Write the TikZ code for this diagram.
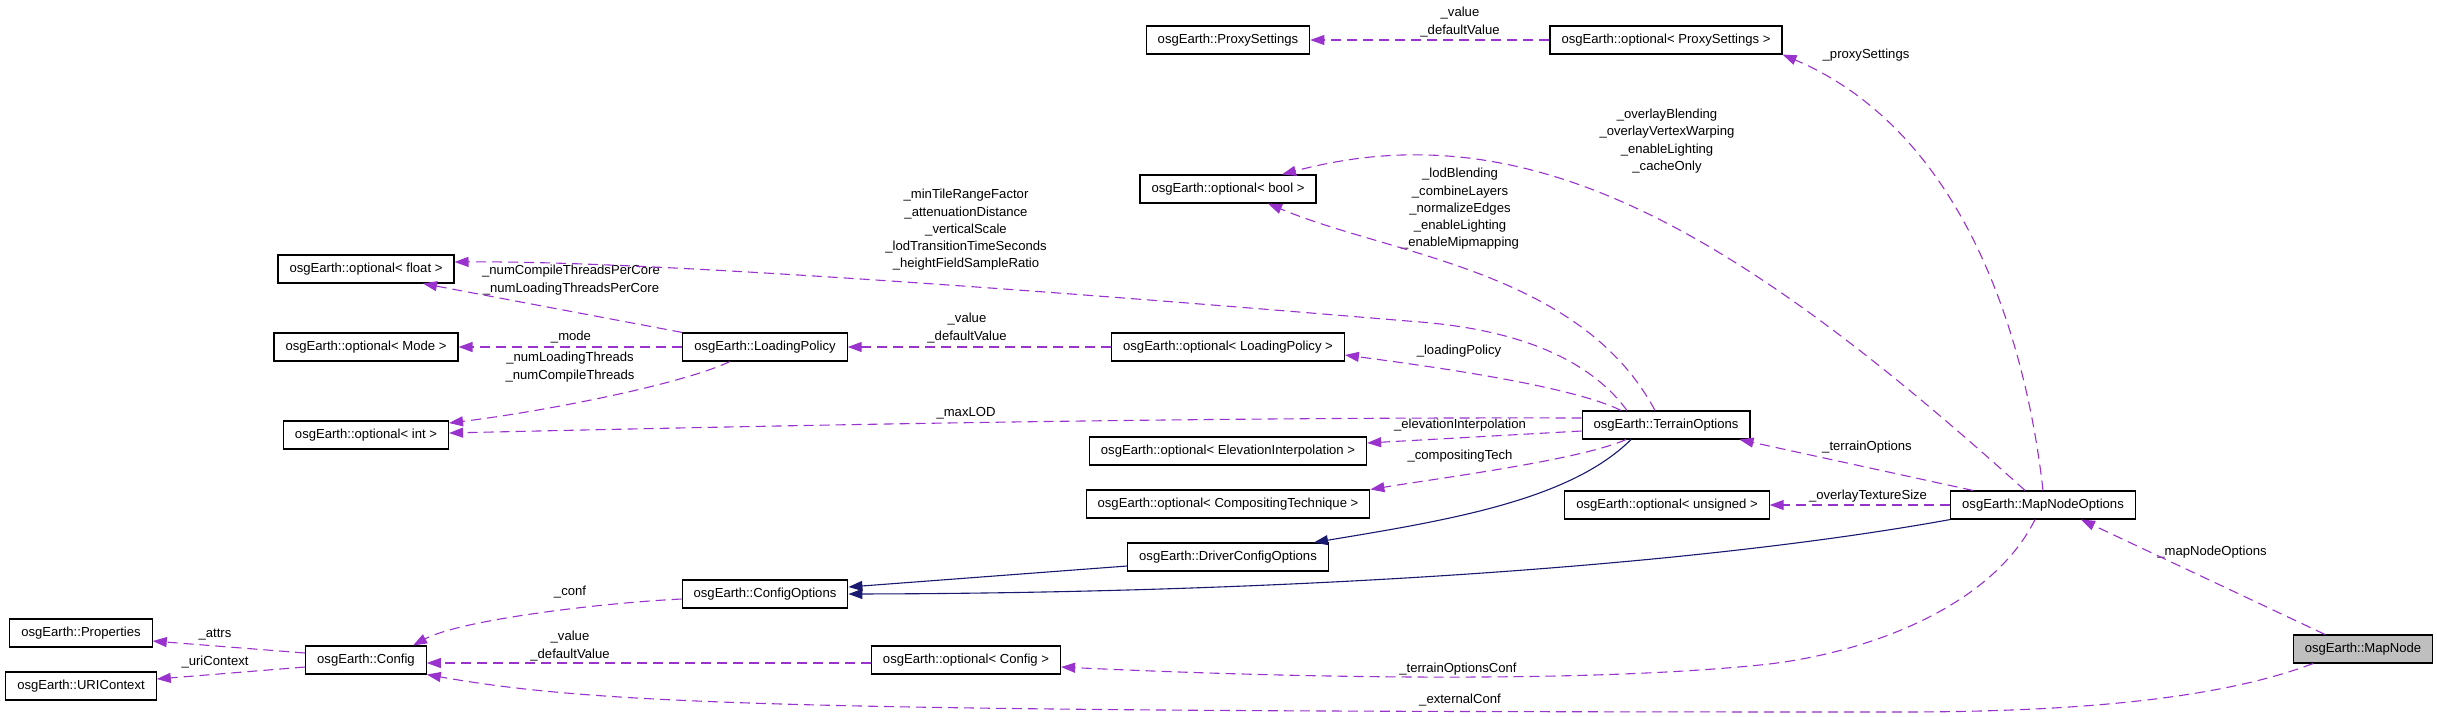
\documentclass[tikz,border=0pt]{standalone}
\usepackage{fontspec}
\setmainfont{Liberation Sans}
\usetikzlibrary{arrows.meta}

\definecolor{roxo}{HTML}{9A32CD}
\definecolor{azul}{HTML}{191970}
\definecolor{cinza}{HTML}{BFBFBF}

\begin{document}
\begin{tikzpicture}[
        x=1pt, y=-1pt,
        >={Triangle[length=14pt,width=10pt]},
        classe/.style={draw, line width=1.1pt, fill=white, inner xsep=11.5pt, inner ysep=0pt, minimum height=28pt},
        atual/.style={classe, fill=cinza},
        membro/.style={->, draw=roxo, dash pattern=on 10pt off 6pt, line width=1.1pt},
        heranca/.style={->, draw=azul, line width=1.1pt},
        rotulo/.style={inner sep=0pt, align=center},
        every node/.style={font=\fontsize{13.1}{17.3}\selectfont}
    ]

        \useasboundingbox (0,0) rectangle (2437,716);

        % ==================================================
        % CLASSES
        % ==================================================

        % Coluna da esquerda
        \node[classe] (props)  at (81,633) {osgEarth::Properties};
        \node[classe] (uri)    at (81,686) {osgEarth::URIContext};
        \node[classe] (optFloat) at (366,269) {osgEarth::optional< float >};
        \node[classe] (optMode)  at (366,347) {osgEarth::optional< Mode >};
        \node[classe] (optInt)   at (366,435) {osgEarth::optional< int >};
        \node[classe] (config)   at (366,660) {osgEarth::Config};

        % Coluna do meio
        \node[classe] (loading)   at (765,347) {osgEarth::LoadingPolicy};
        \node[classe] (confOpts)  at (765,594) {osgEarth::ConfigOptions};
        \node[classe] (optConfig) at (966,660) {osgEarth::optional< Config >};

        \node[classe] (proxy)      at (1228,40)  {osgEarth::ProxySettings};
        \node[classe] (optBool)    at (1228,189) {osgEarth::optional< bool >};
        \node[classe] (optLoading) at (1228,347) {osgEarth::optional< LoadingPolicy >};
        \node[classe] (optElev)    at (1228,451) {osgEarth::optional< ElevationInterpolation >};
        \node[classe] (optComp)    at (1228,504) {osgEarth::optional< CompositingTechnique >};
        \node[classe] (driver)     at (1228,557) {osgEarth::DriverConfigOptions};

        % Coluna da direita
        \node[classe] (optProxy)    at (1666,40)  {osgEarth::optional< ProxySettings >};
        \node[classe] (terrain)     at (1666,425) {osgEarth::TerrainOptions};
        \node[classe] (optUnsigned) at (1667,505) {osgEarth::optional< unsigned >};
        \node[classe] (mapOpts)     at (2043,505) {osgEarth::MapNodeOptions};
        \node[atual]  (mapNode)     at (2363,649) {osgEarth::MapNode};

        % ==================================================
        % ROTULOS
        % ==================================================

        \node[rotulo] (lProxyVal)  at (1460,22)  {\_value\\\_defaultValue};
        \node[rotulo] (lProxySet)  at (1866,55)  {\_proxySettings};
        \node[rotulo] (lOverlay)   at (1667,141) {\_overlayBlending\\\_overlayVertexWarping\\\_enableLighting\\\_cacheOnly};
        \node[rotulo] (lLod)       at (1460,209) {\_lodBlending\\\_combineLayers\\\_normalizeEdges\\\_enableLighting\\\_enableMipmapping};
        \node[rotulo] (lFloat)     at (966,230)  {\_minTileRangeFactor\\\_attenuationDistance\\\_verticalScale\\\_lodTransitionTimeSeconds\\\_heightFieldSampleRatio};
        \node[rotulo] (lPerCore)   at (571,280)  {\_numCompileThreadsPerCore\\\_numLoadingThreadsPerCore};
        \node[rotulo] (lMode)      at (571,337)  {\_mode};
        \node[rotulo] (lThreads)   at (570,367)  {\_numLoadingThreads\\\_numCompileThreads};
        \node[rotulo] (lLoadVal)   at (967,328)  {\_value\\\_defaultValue};
        \node[rotulo] (lLoadPol)   at (1459,351) {\_loadingPolicy};
        \node[rotulo] (lMaxLod)    at (966,413)  {\_maxLOD};
        \node[rotulo] (lElev)      at (1460,425) {\_elevationInterpolation};
        \node[rotulo] (lComp)      at (1460,456) {\_compositingTech};
        \node[rotulo] (lTerrain)   at (1867,447) {\_terrainOptions};
        \node[rotulo] (lTexSize)   at (1868,496) {\_overlayTextureSize};
        \node[rotulo] (lMapOpts)   at (2212,552) {\_mapNodeOptions};
        \node[rotulo] (lConf)      at (570,592)  {\_conf};
        \node[rotulo] (lConfVal)   at (570,646)  {\_value\\\_defaultValue};
        \node[rotulo] (lAttrs)     at (215,635)  {\_attrs};
        \node[rotulo] (lUri)       at (215,662)  {\_uriContext};
        \node[rotulo] (lTerrConf)  at (1458,669) {\_terrainOptionsConf};
        \node[rotulo] (lExternal)  at (1460,700) {\_externalConf};

        % ==================================================
        % SETAS
        % ==================================================

        % Heranca
        \draw[heranca] ([xshift=-35pt]terrain.south) .. controls (1570,500) and (1450,520) .. ([xshift=86pt]driver.north);
        \draw[heranca] ([yshift=-9pt]driver.west) -- ([yshift=7pt]confOpts.east);
        \draw[heranca] (mapOpts.south west) .. controls (1700,565) and (1300,593) .. (confOpts.east);

        % Membros
        \draw[membro] (optProxy) -- (proxy);
        \draw[membro] (mapOpts.north) .. controls (2025,330) and (1960,130) .. (optProxy.south east);
        \draw[membro] ([xshift=-18pt]mapOpts.north) .. controls (1729,223) and (1524,110) .. ([xshift=54pt]optBool.north);
        \draw[membro] ([xshift=-11pt]terrain.north) .. controls (1580,270) and (1390,255) .. ([xshift=40pt]optBool.south);
        \draw[membro] ([xshift=-39pt]terrain.north) .. controls (1590,360) and (1520,330) .. (1420,322)
            .. controls (1320,314) and (700,260) .. ([yshift=7pt]optFloat.east);
        \draw[membro] (loading.north west) -- ([xshift=57pt]optFloat.south);
        \draw[membro] (loading) -- (optMode);
        \draw[membro] ([xshift=-35pt]loading.south) .. controls (680,385) and (540,412) .. ([yshift=12pt]optInt.east);
        \draw[membro] ([yshift=7pt]terrain.west) .. controls (1200,417) and (800,425) .. ([yshift=2pt]optInt.east);
        \draw[membro] (optLoading) -- (loading);
        \draw[membro] ([xshift=-45pt]terrain.north) .. controls (1570,385) and (1420,365) .. ([yshift=-8pt]optLoading.east);
        \draw[membro] ([yshift=-6pt]terrain.west) -- ([yshift=8pt]optElev.east);
        \draw[membro] ([xshift=-40pt]terrain.south) .. controls (1580,460) and (1440,478) .. (optComp.north east);
        \draw[membro] ([xshift=-70pt]mapOpts.north) -- ([xshift=-11pt]terrain.south east);
        \draw[membro] (mapOpts) -- (optUnsigned);
        \draw[membro] ([xshift=-8pt]mapOpts.south) .. controls (1990,610) and (1860,655) .. (1760,665)
            .. controls (1560,685) and (1250,676) .. ([yshift=-7pt]optConfig.east);
        \draw[membro] ([yshift=-5pt]confOpts.west) .. controls (600,603) and (460,620) .. ([xshift=47pt]config.north);
        \draw[membro] ([yshift=-3pt]optConfig.west) -- ([yshift=-3pt]config.east);
        \draw[membro] ([xshift=-50pt]mapNode.south) .. controls (2230,695) and (2100,712) .. (1900,712)
            .. controls (800,712) and (600,705) .. (config.south east);
        \draw[membro] ([xshift=-38pt]mapNode.north) -- ([xshift=38pt]mapOpts.south);
        \draw[membro] ([yshift=7pt]config.west) -- ([yshift=-8pt]props.east);
        \draw[membro] ([yshift=-7pt]config.west) -- ([yshift=7pt]uri.east);

\end{tikzpicture}
\end{document}
